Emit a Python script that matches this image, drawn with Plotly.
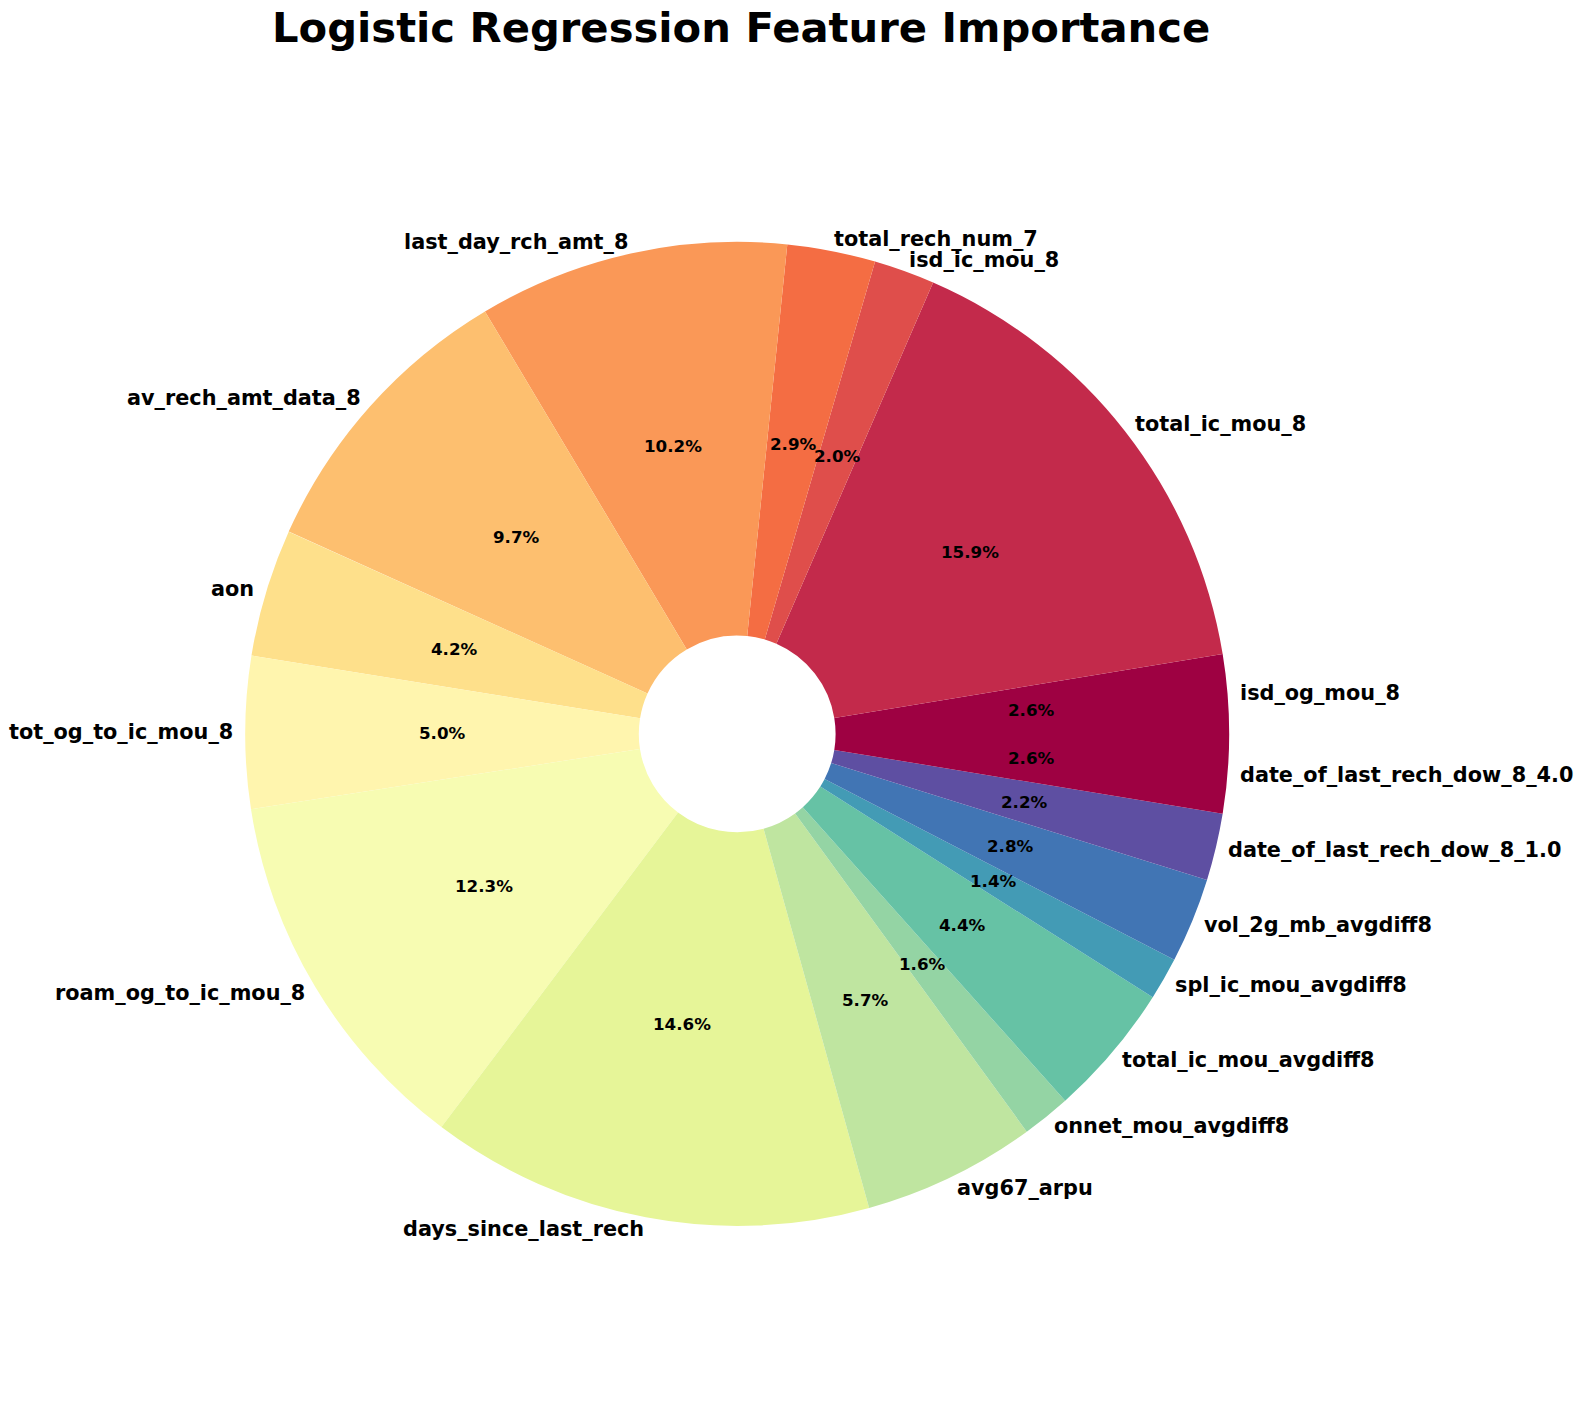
import math
import plotly.graph_objects as go

# ---- data ----
features = [
    "isd_og_mou_8", "total_ic_mou_8", "isd_ic_mou_8", "total_rech_num_7",
    "last_day_rch_amt_8", "av_rech_amt_data_8", "aon", "tot_og_to_ic_mou_8",
    "roam_og_to_ic_mou_8", "days_since_last_rech", "avg67_arpu",
    "onnet_mou_avgdiff8", "total_ic_mou_avgdiff8", "spl_ic_mou_avgdiff8",
    "vol_2g_mb_avgdiff8", "date_of_last_rech_dow_8_1.0", "date_of_last_rech_dow_8_4.0",
]
importance = [2.6, 15.9, 2.0, 2.9, 10.2, 9.7, 4.2, 5.0, 12.3, 14.6, 5.7,
              1.6, 4.4, 1.4, 2.8, 2.2, 2.6]
title_text = "Logistic Regression Feature Importance"

# ---- style / geometry ----
W, H = 1582, 1426
CX, CY, R = 737.2, 733.9, 492.0
LABEL_DIST = 1.025
PCT_DIST = 0.6
FONT = "DejaVu Sans"

spectral = [(158, 1, 66), (213, 62, 79), (244, 109, 67), (253, 174, 97),
            (254, 224, 139), (255, 255, 191), (230, 245, 152), (171, 221, 164),
            (102, 194, 165), (50, 136, 189), (94, 79, 162)]


def spec(t):
    p = t * (len(spectral) - 1)
    i = min(int(p), len(spectral) - 2)
    f = p - i
    a, b = spectral[i], spectral[i + 1]
    return "rgb(%d,%d,%d)" % tuple(round(a[k] + (b[k] - a[k]) * f) for k in range(3))


n_colors = 16
palette = [spec(i / (n_colors - 1)) for i in range(n_colors)]
colors = [palette[i % n_colors] for i in range(len(features))]

total = sum(importance)
# plotly's counterclockwise pies place the END of the first slice at `rotation`;
# shift so the first slice starts at 3 o'clock like matplotlib (startangle=0)
first_angle = importance[0] / total * 360

fig = go.Figure()
fig.add_trace(go.Pie(
    labels=features,
    values=importance,
    sort=False,
    direction="counterclockwise",
    rotation=90 - first_angle,
    hole=0.2,
    textinfo="none",
    hoverinfo="label+percent",
    marker=dict(colors=colors, line=dict(color="white", width=0)),
    domain=dict(x=[(CX - R) / W, (CX + R) / W], y=[1 - (CY + R) / H, 1 - (CY - R) / H]),
    showlegend=False,
))

annotations = []
cum = 0.0
for name, v in zip(features, importance):
    a0 = cum / total * 360
    cum += v
    a1 = cum / total * 360
    mid = math.radians((a0 + a1) / 2)
    c, s = math.cos(mid), math.sin(mid)
    # outer label
    lx = CX + LABEL_DIST * R * c
    ly = CY - LABEL_DIST * R * s
    annotations.append(dict(
        x=lx / W, y=1 - ly / H, xref="paper", yref="paper",
        text="<b>%s</b>" % name, showarrow=False,
        xanchor="left" if c > 0 else "right", yanchor="middle",
        borderpad=0, borderwidth=0,
        font=dict(family=FONT, size=20.8, color="black"),
    ))
    # percent label
    px_ = CX + PCT_DIST * R * c
    py_ = CY - PCT_DIST * R * s
    annotations.append(dict(
        x=px_ / W, y=1 - py_ / H, xref="paper", yref="paper",
        text="<b>%.1f%%</b>" % (v / total * 100), showarrow=False,
        xanchor="center", yanchor="middle",
        borderpad=0, borderwidth=0,
        font=dict(family=FONT, size=16.7, color="black"),
    ))

annotations.append(dict(
    x=741 / W, y=1 - 27 / H, xref="paper", yref="paper",
    text="<b>%s</b>" % title_text, showarrow=False,
    xanchor="center", yanchor="middle",
    font=dict(family=FONT, size=41.7, color="black"),
))

fig.update_layout(
    width=W, height=H,
    margin=dict(l=0, r=0, t=0, b=0),
    paper_bgcolor="white", plot_bgcolor="white",
    annotations=annotations,
    font=dict(family=FONT),
)

fig.write_html("out.html")
